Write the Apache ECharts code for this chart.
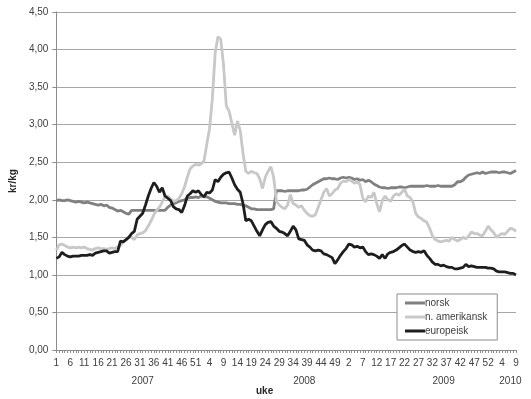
<!DOCTYPE html>
<html>
<head>
<meta charset="utf-8">
<script src="https://cdn.jsdelivr.net/npm/echarts@6/dist/echarts.min.js"></script>
<style>
  html, body { margin: 0; padding: 0; background: #fff; }
  #chart { width: 531px; height: 399px; }
</style>
</head>
<body>
<div id="chart"></div>
<script>
// uker per år (2009 har 53 uker), data går til uke 9 i 2010
var years = ['2007', '2008', '2009', '2010'];
var weeksPerYear = [52, 52, 53, 9];
// hvor årstallet står under aksen (kategori-indeks)
var yearLabelIndex = [31, 89, 139, 163];
var yTicks = [0, 0.5, 1, 1.5, 2, 2.5, 3, 3.5, 4, 4.5];

var norsk = [
  1.99, 2.00, 1.99, 1.99, 2.00, 1.99, 1.98, 1.97, 1.98, 1.97,
  1.96, 1.97, 1.96, 1.95, 1.94, 1.93, 1.94, 1.92, 1.93, 1.90,
  1.89, 1.87, 1.85, 1.86, 1.84, 1.82, 1.81, 1.86, 1.86, 1.86,
  1.86, 1.86, 1.86, 1.86, 1.86, 1.86, 1.86, 1.86, 1.86, 1.86,
  1.90, 1.93, 1.95, 1.96, 1.98, 1.99, 2.00, 2.02, 2.03, 2.03,
  2.04, 2.03, 2.05, 2.04, 2.04, 2.02, 2.00, 1.98, 1.97, 1.96,
  1.96, 1.96, 1.95, 1.95, 1.95, 1.94, 1.94, 1.93, 1.92, 1.90,
  1.88, 1.88, 1.87, 1.87, 1.87, 1.87, 1.87, 1.87, 1.88, 2.12,
  2.12, 2.12, 2.11, 2.12, 2.12, 2.12, 2.12, 2.12, 2.13, 2.13,
  2.14, 2.17, 2.20, 2.22, 2.24, 2.26, 2.28, 2.28, 2.29, 2.28,
  2.28, 2.27, 2.29, 2.30, 2.29, 2.30, 2.29, 2.27, 2.28, 2.26,
  2.27, 2.24, 2.26, 2.24, 2.21, 2.19, 2.17, 2.16, 2.16, 2.15,
  2.16, 2.16, 2.16, 2.17, 2.17, 2.16, 2.17, 2.18, 2.18, 2.18,
  2.18, 2.18, 2.18, 2.19, 2.18, 2.18, 2.18, 2.19, 2.18, 2.18,
  2.18, 2.18, 2.18, 2.20, 2.24, 2.24, 2.26, 2.30, 2.33, 2.34,
  2.35, 2.36, 2.35, 2.37, 2.35, 2.36, 2.37, 2.37, 2.37, 2.36,
  2.37, 2.37, 2.36, 2.35, 2.37, 2.39
];

var amerikansk = [
  1.33, 1.40, 1.41, 1.39, 1.37, 1.36, 1.37, 1.36, 1.37, 1.36,
  1.37, 1.35, 1.34, 1.33, 1.35, 1.36, 1.35, 1.35, 1.34, 1.35,
  1.36, 1.35, 1.37, 1.39, 1.44, 1.46, 1.51, 1.50, 1.47, 1.53,
  1.55, 1.56, 1.59, 1.65, 1.72, 1.80, 1.86, 1.90, 1.97, 2.04,
  2.05, 2.01, 1.98, 1.99, 2.02, 2.08, 2.17, 2.30, 2.41, 2.45,
  2.47, 2.46, 2.48, 2.52, 2.74, 2.95, 3.35, 3.95, 4.17, 4.14,
  3.80, 3.25, 3.18, 3.02, 2.86, 3.05, 2.92, 2.62, 2.38, 2.35,
  2.38, 2.36, 2.35, 2.28, 2.15, 2.30, 2.38, 2.44, 2.30, 1.98,
  1.93, 1.90, 1.88, 1.93, 2.07, 1.95, 1.93, 1.90, 1.92, 1.86,
  1.82, 1.79, 1.78, 1.80, 1.90, 2.00, 2.10, 2.15, 2.05, 2.08,
  2.13, 2.15, 2.22, 2.25, 2.24, 2.27, 2.25, 2.22, 2.24, 2.20,
  2.02, 1.97, 2.05, 2.03, 2.10, 1.95, 1.84, 1.99, 2.05, 2.00,
  1.98, 2.05, 2.08, 2.06, 2.10, 2.14, 2.05, 2.03, 1.97, 1.82,
  1.77, 1.75, 1.72, 1.70, 1.62, 1.52, 1.47, 1.45, 1.44, 1.45,
  1.46, 1.45, 1.50, 1.47, 1.45, 1.47, 1.50, 1.48, 1.52, 1.57,
  1.55, 1.55, 1.53, 1.52, 1.58, 1.65, 1.60, 1.56, 1.50, 1.53,
  1.55, 1.54, 1.58, 1.62, 1.61, 1.58
];

var europeisk = [
  1.22, 1.24, 1.30, 1.27, 1.25, 1.24, 1.25, 1.25, 1.25, 1.26,
  1.26, 1.26, 1.27, 1.26, 1.29, 1.30, 1.31, 1.32, 1.32, 1.29,
  1.30, 1.31, 1.31, 1.45, 1.44, 1.47, 1.50, 1.55, 1.58, 1.74,
  1.78, 1.82, 1.93, 2.05, 2.15, 2.23, 2.18, 2.10, 2.16, 2.05,
  2.02, 1.99, 1.91, 1.88, 1.87, 1.83, 1.92, 2.05, 2.08, 2.12,
  2.10, 2.12, 2.07, 2.04, 2.10, 2.09, 2.13, 2.27, 2.24, 2.30,
  2.34, 2.36, 2.37, 2.29, 2.20, 2.14, 2.10, 1.95, 1.72, 1.74,
  1.72, 1.65, 1.58, 1.52, 1.60, 1.67, 1.70, 1.71, 1.65, 1.62,
  1.58, 1.57, 1.55, 1.52, 1.58, 1.65, 1.60, 1.48, 1.47, 1.46,
  1.40, 1.37, 1.33, 1.32, 1.33, 1.32, 1.28, 1.27, 1.25, 1.23,
  1.15, 1.20, 1.26, 1.31, 1.35, 1.41, 1.40, 1.37, 1.38, 1.36,
  1.37, 1.31, 1.27, 1.28, 1.27, 1.25, 1.22, 1.27, 1.22, 1.28,
  1.30, 1.31, 1.33, 1.36, 1.39, 1.41, 1.37, 1.33, 1.31, 1.30,
  1.31, 1.30, 1.32, 1.26, 1.22, 1.17, 1.14, 1.14, 1.12, 1.13,
  1.11, 1.10, 1.10, 1.08, 1.08, 1.09, 1.10, 1.14, 1.11, 1.12,
  1.11, 1.10, 1.10, 1.10, 1.10, 1.09, 1.09, 1.08, 1.05, 1.04,
  1.04, 1.04, 1.03, 1.02, 1.02, 1.00
];

// ukenummer og årstall for hver kategori
var weeks = [], weekYear = [];
years.forEach(function (y, k) {
  for (var w = 1; w <= weeksPerYear[k]; w++) {
    weeks.push(String(w));
    weekYear.push(y);
  }
});

var font = 'Liberation Sans';
var textColor = '#404040';

var chart = echarts.init(document.getElementById('chart'), null, { renderer: 'canvas' });

var option = {
  animation: false,
  backgroundColor: '#fff',
  textStyle: { fontFamily: font },
  grid: { left: 52, right: 15, top: 12, bottom: 49 },
  legend: {
    orient: 'vertical',
    left: 397,
    top: 294,
    padding: [3, 10, 3, 8],
    itemGap: 2,
    itemWidth: 20,
    itemHeight: 3,
    icon: 'rect',
    backgroundColor: '#fff',
    borderColor: '#8c8c8c',
    borderWidth: 1,
    textStyle: { fontFamily: font, fontSize: 10, color: textColor, lineHeight: 12, padding: [0, 0, 0, -5] },
    data: ['norsk', 'n. amerikansk', 'europeisk']
  },
  xAxis: [
    {
      type: 'category',
      data: weeks,
      boundaryGap: false,
      axisLine: { lineStyle: { color: '#8c8c8c' } },
      axisTick: { interval: 0, length: 3, lineStyle: { color: '#8c8c8c' } },
      axisLabel: { interval: 4, margin: 8, fontSize: 10, color: textColor, fontFamily: font },
      splitLine: { show: false }
    },
    {
      type: 'category',
      data: weekYear,
      position: 'bottom',
      offset: 18,
      boundaryGap: false,
      axisLine: { show: false },
      axisTick: { show: false },
      axisLabel: {
        interval: function (idx) { return yearLabelIndex.indexOf(idx) >= 0; },
        fontSize: 10,
        color: textColor,
        fontFamily: font
      },
      splitLine: { show: false }
    }
  ],
  yAxis: {
    type: 'value',
    min: yTicks[0],
    max: yTicks[yTicks.length - 1],
    interval: 0.5,
    name: 'kr/kg',
    nameLocation: 'middle',
    nameGap: 38,
    nameRotate: 90,
    nameTextStyle: { fontFamily: font, fontSize: 10, fontWeight: 'bold', color: '#262626' },
    axisLine: { show: true, lineStyle: { color: '#8c8c8c' } },
    axisTick: { show: true, length: 4, lineStyle: { color: '#8c8c8c' } },
    axisLabel: {
      margin: 8,
      fontSize: 10,
      color: textColor,
      fontFamily: font,
      formatter: function (v) { return v.toFixed(2).replace('.', ','); }
    },
    splitLine: { lineStyle: { color: '#a6a6a6', width: 1 } }
  },
  graphic: [
    {
      type: 'text',
      left: 256,
      top: 386,
      style: { text: 'uke', font: 'bold 10px "Liberation Sans"', fill: '#262626' }
    }
  ],
  series: [
    {
      name: 'norsk',
      type: 'line',
      data: norsk,
      showSymbol: false,
      color: '#808080',
      lineStyle: { width: 2.8, color: '#808080' }
    },
    {
      name: 'n. amerikansk',
      type: 'line',
      data: amerikansk,
      showSymbol: false,
      color: '#c8c8c8',
      lineStyle: { width: 2.8, color: '#c8c8c8' }
    },
    {
      name: 'europeisk',
      type: 'line',
      data: europeisk,
      showSymbol: false,
      color: '#1e1e1e',
      lineStyle: { width: 2.8, color: '#1e1e1e' }
    }
  ]
};

chart.setOption(option);
window.addEventListener('resize', function () {
  chart.resize();
});
</script>
</body>
</html>
